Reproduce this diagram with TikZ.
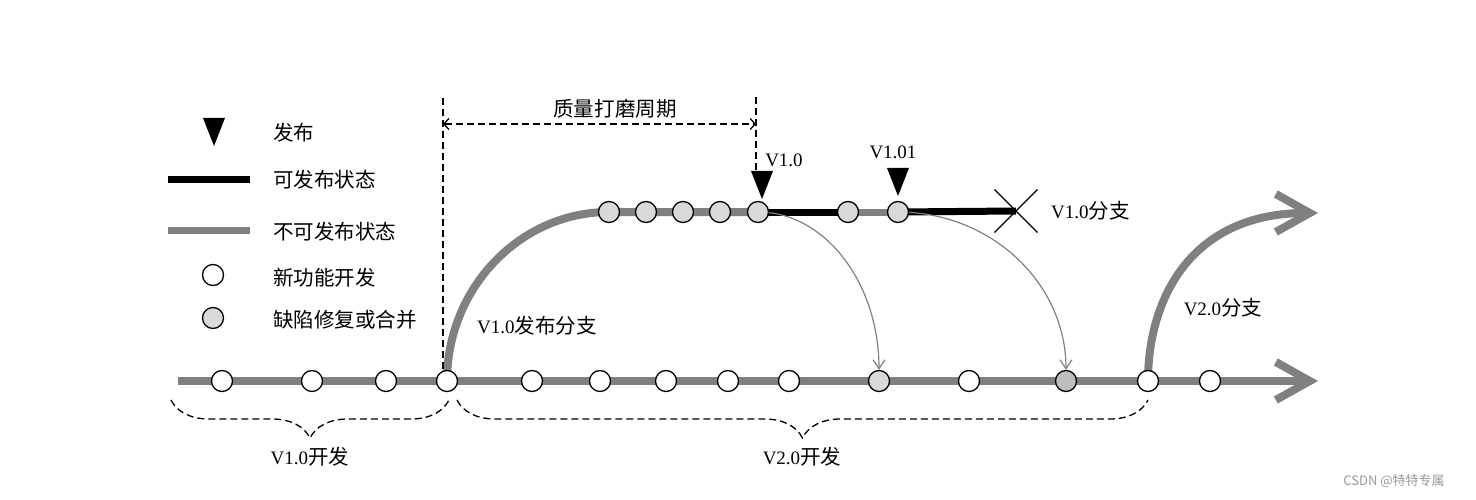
\documentclass[tikz,border=0pt]{standalone}
\usepackage{fontspec}
\setmainfont{Liberation Serif}
\newfontfamily\cjk[Scale=1.08]{Noto Sans CJK SC}
\newfontfamily\wmfont{Noto Sans CJK SC}
\newcommand{\zh}[1]{{\cjk #1}}
\usetikzlibrary{positioning,arrows.meta,backgrounds,shapes.misc,decorations.pathreplacing}
\definecolor{linegray}{HTML}{808080}
\definecolor{fixgray}{HTML}{D9D9D9}
\definecolor{mergegray}{HTML}{BDBDBD}
\tikzset{
  feat/.style={circle,draw=black,line width=1.3pt,fill=white,minimum size=21pt,inner sep=0pt},
  fix/.style={feat,fill=fixgray},
  unstable/.style={draw=linegray,line width=8pt},
  stable/.style={draw=black,line width=7pt},
  bigtip/.style={-{Straight Barb[length=34pt,width=38pt]}},
  mergeln/.style={draw=linegray,line width=1.2pt,-{Straight Barb[length=9pt,width=12pt]}},
  dim/.style={line width=1.3pt,dash pattern=on 7pt off 4pt},
  bracefoot/.style={dim,decorate,decoration={brace,mirror,amplitude=38pt}},
  lbl/.style={inner sep=1pt},
  release/.pic={\fill (-11,-28) -- (11,-28) -- (0,0) -- cycle;},
}

\begin{document}
\begin{tikzpicture}[x=1pt,y=-1pt,font=\fontsize{19}{22}\selectfont]
  \useasboundingbox (0,0) rectangle (1476,500);

  % legend
  \pic at (214,146) {release};
  \node[lbl,anchor=west] (lrel) at (272,133) {\zh{发布}};
  \coordinate (lsa) at (168,180);
  \coordinate (lsb) at (250,180);
  \node[lbl,anchor=west] (lsta) at (272,180) {\zh{可发布状态}};
  \coordinate (lua) at (168,230);
  \coordinate (lub) at (250,230);
  \node[lbl,anchor=west] (luns) at (272,232) {\zh{不可发布状态}};
  \node[feat] (lfeat) at (213,275) {};
  \node[lbl,anchor=west] (lfeatt) at (272,278) {\zh{新功能开发}};
  \node[fix] (lfix) at (213,318) {};
  \node[lbl,anchor=west] (lfixt) at (272,320) {\zh{缺陷修复或合并}};

  % main line commits
  \coordinate (mstart) at (178,381);
  \coordinate (mend) at (1318,381);
  \node[feat] (m1) at (222,381) {};
  \node[feat] (m2) at (312,381) {};
  \node[feat] (m3) at (386,381) {};
  \node[feat] (m4) at (447,381) {};
  \node[feat] (m5) at (532,381) {};
  \node[feat] (m6) at (600,381) {};
  \node[feat] (m7) at (666,381) {};
  \node[feat] (m8) at (728,381) {};
  \node[feat] (m9) at (789,381) {};
  \node[fix] (m10) at (879,381) {};
  \node[feat] (m11) at (969,381) {};
  \node[fix,fill=mergegray] (m12) at (1066,381) {};
  \node[feat] (m13) at (1148,381) {};
  \node[feat] (m14) at (1210,381) {};

  % V1.0 branch commits
  \node[fix] (t1) at (609,212) {};
  \node[fix] (t2) at (646,212) {};
  \node[fix] (t3) at (683,212) {};
  \node[fix] (t4) at (720,212) {};
  \node[fix] (t5) at (758,212) {};
  \node[fix] (t6) at (848,212) {};
  \node[fix] (t7) at (898,212) {};
  \node[cross out,draw,line width=1.2pt,minimum size=42pt,inner sep=0pt] (x10) at (1016,211) {};
  \node[lbl,anchor=west] (lend) at (1050,211) {V1.0\zh{分支}};

  % releases
  \pic at (762,199) {release};
  \node[lbl] (r10) at (784,160) {V1.0};
  \pic at (898,196) {release};
  \node[lbl] (r101) at (893,152) {V1.01};

  % quality period
  \coordinate (qa) at (443,98);
  \coordinate (qab) at (443,370);
  \coordinate (qb) at (756,97);
  \coordinate (qbb) at (756,172);
  \coordinate (qal) at (443,124);
  \coordinate (qbl) at (756,124);
  \node[lbl] (qlbl) at (615,109) {\zh{质量打磨周期}};
  \draw[dim] (qa) -- (qab);
  \draw[dim] (qb) -- (qbb);
  \draw[dim,{Straight Barb[length=5pt,width=11pt]}-{Straight Barb[length=5pt,width=11pt]}] (qal) -- (qbl);

  % branch labels
  \node[lbl,anchor=west] (lb1) at (476,326) {V1.0\zh{发布分支}};
  \coordinate (v2end) at (1318,213);
  \node[lbl] (lb2) at (1223,308) {V2.0\zh{分支}};

  % development periods
  \coordinate (d1a) at (171,400);
  \coordinate (d1b) at (449,400);
  \coordinate (d2a) at (457,400);
  \coordinate (d2b) at (1148,400);
  \draw[bracefoot] (d1a) -- (d1b);
  \draw[bracefoot] (d2a) -- (d2b);
  \node[lbl] (dev1) at (310,457) {V1.0\zh{开发}};
  \node[lbl] (dev2) at (802,457) {V2.0\zh{开发}};

  \node[font=\wmfont\fontsize{13}{15}\selectfont,text=gray!80] (wm) at (1394,481) {CSDN @特特专属};

  \begin{scope}[on background layer]
    \draw[stable] (lsa) -- (lsb);
    \draw[unstable,line width=7pt] (lua) -- (lub);
    \draw[unstable,bigtip] (mstart) -- (mend);
    \draw[unstable] (m4.center) .. controls (447,288) and (520,212) .. (t1.center) -- (t5.center);
    \draw[stable] (t5.center) -- (t6.center);
    \draw[unstable,line width=7pt] (t6.center) -- (t7.center);
    \draw[stable] (t7.center) -- (x10.center);
    \draw[unstable,bigtip] (m13.center) .. controls (1148,300) and (1190,213) .. (v2end);
    \draw[mergeln] (t5.center) .. controls (825,212) and (879,283) .. (m10.north);
    \draw[mergeln] (t7.center) .. controls (991,212) and (1066,283) .. (m12.north);
  \end{scope}
\end{tikzpicture}
\end{document}
